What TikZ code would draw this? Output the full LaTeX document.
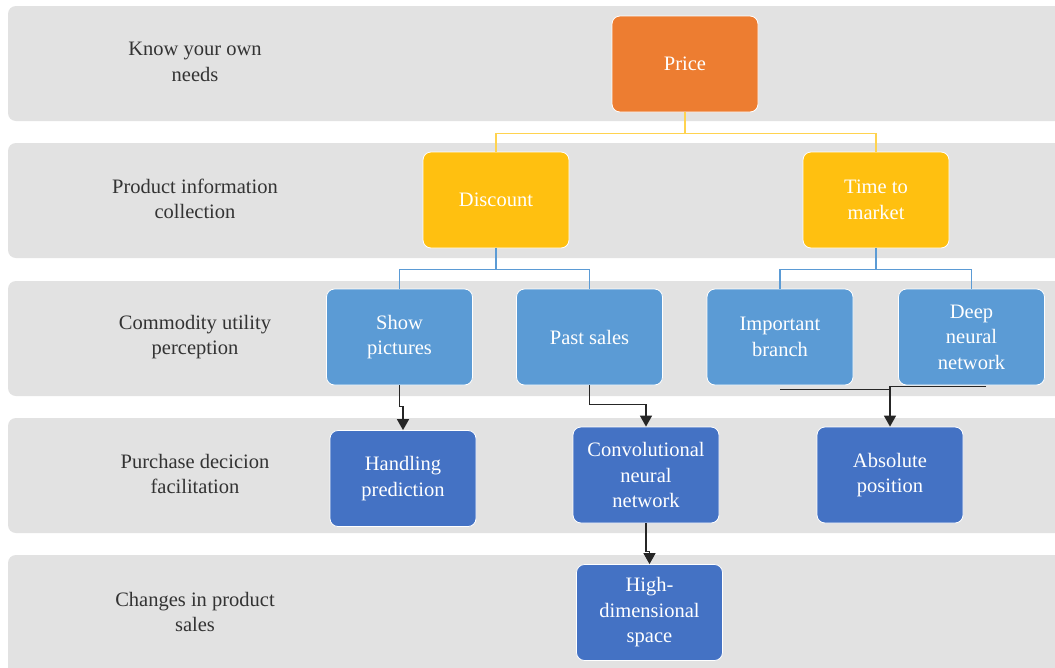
\documentclass[tikz,border=0pt]{standalone}
\usepackage{fontspec}
\setmainfont{Liberation Serif}
\usetikzlibrary{arrows.meta}
\definecolor{band}{HTML}{E2E2E2}
\definecolor{orangebox}{HTML}{ED7D31}
\definecolor{yellowbox}{HTML}{FFC010}
\definecolor{lightblue}{HTML}{5B9BD5}
\definecolor{darkblue}{HTML}{4472C4}
\definecolor{yline}{HTML}{FFD34F}
\definecolor{labeltext}{HTML}{333333}
\definecolor{arrowline}{HTML}{262626}
\tikzset{
  bandbox/.style={fill=band, draw=none, rounded corners=8pt},
  rowlabel/.style={align=center, text=labeltext, font=\fontsize{20.5pt}{25.5pt}\selectfont},
  boxbase/.style={draw=white, line width=0.8pt, rounded corners=8pt, minimum width=146pt, minimum height=96pt, inner sep=2pt, align=center, text=white, font=\fontsize{20.5pt}{25.5pt}\selectfont},
  orangenode/.style={boxbase, fill=orangebox},
  yellownode/.style={boxbase, fill=yellowbox},
  lbnode/.style={boxbase, fill=lightblue},
  dbnode/.style={boxbase, fill=darkblue},
  yconn/.style={draw=yline, line width=1.6pt},
  bconn/.style={draw=lightblue, line width=1.6pt},
  kconn/.style={draw=arrowline, line width=1.5pt},
  karrow/.style={kconn, -{Triangle[width=12pt,length=11pt]}}
}
\begin{document}
\begin{tikzpicture}[x=1pt,y=-1pt]
\clip (0,0) rectangle (1055,667);
\fill[white] (0,0) rectangle (1055,667);
% bands
\fill[bandbox] (8,6) rectangle (1080,121);
\fill[bandbox] (8,143) rectangle (1080,258);
\fill[bandbox] (8,281) rectangle (1080,396);
\fill[bandbox] (8,418) rectangle (1080,533);
\fill[bandbox] (8,555) rectangle (1080,690);
% row labels
\node[rowlabel] (l1) at (195,62) {Know your own\\needs};
\node[rowlabel] (l2) at (195,199) {Product information\\collection};
\node[rowlabel] (l3) at (195,337) {Commodity utility\\perception};
\node[rowlabel] (l4) at (195,474) {Purchase decicion\\facilitation};
\node[rowlabel] (l5) at (195,612) {Changes in product\\sales};
% boxes
\node[orangenode] (price) at (685,64) {Price};
\node[yellownode] (discount) at (496,200) {Discount};
\node[yellownode] (time) at (876,200) {Time to\\market};
\node[lbnode] (show) at (399.5,337) {Show\\pictures};
\node[lbnode] (past) at (589.5,337) {Past sales};
\node[lbnode] (important) at (780,337) {Important\\branch};
\node[lbnode] (deep) at (971.5,337) {Deep\\neural\\network};
\node[dbnode] (handling) at (403,478.5) {Handling\\prediction};
\node[dbnode] (conv) at (646,475) {Convolutional\\neural\\network};
\node[dbnode] (absolute) at (890,475) {Absolute\\position};
\node[dbnode] (high) at (649.5,612.5) {High-\\dimensional\\space};
% tree connectors
\draw[yconn] (price.south) -- ++(0,21) -| (discount.north);
\draw[yconn] (price.south) -- ++(0,21) -| (time.north);
\draw[bconn] (discount.south) -- ++(0,21) -| (show.north);
\draw[bconn] (discount.south) -- ++(0,21) -| (past.north);
\draw[bconn] (time.south) -- ++(0,21) -| (important.north);
\draw[bconn] (time.south) -- ++(0,21) -| (deep.north);
% arrows
\draw[karrow] (show.south) -- ++(0,21) -| (handling.north);
\draw[karrow] (past.south) -- ++(0,19) -| (conv.north);
\draw[karrow] (conv.south) -- ++(0,28) -| (high.north);
\draw[kconn] ([yshift=-4pt]important.south) -- ([yshift=-4pt]important.south -| absolute.north);
\draw[karrow] ([xshift=14.5pt,yshift=-1pt]deep.south) -- ([yshift=-1pt]deep.south -| absolute.north) -- (absolute.north);
\end{tikzpicture}
\end{document}
